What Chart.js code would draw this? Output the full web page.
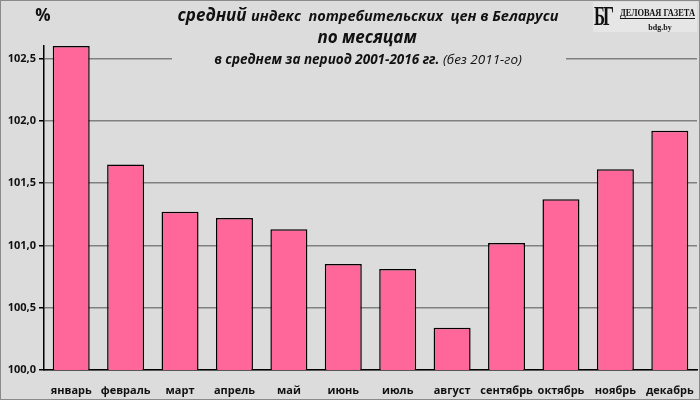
<!DOCTYPE html>
<html>
<head>
<meta charset="utf-8">
<script src="https://cdn.jsdelivr.net/npm/chart.js@4"></script>
<style>
  body { margin: 0; background: #dcdcdc; }
  #wrap { width: 700px; height: 400px; }
</style>
</head>
<body>
<div id="wrap"><canvas id="cpiChart" width="700" height="400"></canvas></div>
<script>
// месяцы и средний индекс потребительских цен, %
const months = ['январь', 'февраль', 'март', 'апрель', 'май', 'июнь',
                'июль', 'август', 'сентябрь', 'октябрь', 'ноябрь', 'декабрь'];
const cpiValues = [102.60, 101.65, 101.27, 101.22, 101.13, 100.85,
                   100.81, 100.34, 101.02, 101.37, 101.61, 101.92];
const yTicks = [100.0, 100.5, 101.0, 101.5, 102.0, 102.5];

const FONT = '"Open Sans", "Noto Sans", sans-serif';

// draw text squeezed to a given width
function fitText(ctx, text, x, y, width) {
    const w = ctx.measureText(text).width;
    ctx.save();
    ctx.translate(x, y);
    ctx.scale(width / w, 1);
    ctx.fillText(text, 0, 0);
    ctx.restore();
}

// Background, frame, titles and the logo
const decorPlugin = {
    id: 'decor',
    beforeDraw(chart) {
        const ctx = chart.ctx;
        ctx.save();
        ctx.fillStyle = '#dcdcdc';
        ctx.fillRect(0, 0, chart.width, chart.height);
        ctx.restore();
    },
    afterDraw(chart) {
        const ctx = chart.ctx;
        ctx.save();
        // title box hides the top gridline
        ctx.fillStyle = '#dcdcdc';
        ctx.fillRect(172, 0, 394, 70);

        ctx.fillStyle = '#111';
        ctx.textBaseline = 'middle';

        // "%" label
        ctx.font = 'bold 17px ' + FONT;
        ctx.textAlign = 'center';
        ctx.fillText('%', 43, 16);

        // line 1, mixed sizes
        const p1 = 'средний ';
        const p2 = 'индекс  потребительских  цен в Беларуси';
        ctx.font = 'italic bold 17px ' + FONT;
        const w1 = ctx.measureText(p1).width;
        ctx.font = 'italic bold 14.5px ' + FONT;
        const w2 = ctx.measureText(p2).width;
        let x = 368 - (w1 + w2) / 2;
        ctx.textAlign = 'left';
        ctx.font = 'italic bold 17px ' + FONT;
        ctx.fillText(p1, x, 16);
        ctx.font = 'italic bold 14.5px ' + FONT;
        ctx.fillText(p2, x + w1, 17);

        // line 2
        ctx.textAlign = 'center';
        ctx.font = 'italic bold 17px ' + FONT;
        ctx.fillText('по месяцам', 367, 38);

        // line 3
        const s1 = 'в среднем за период 2001-2016 гг. ';
        const s2 = '(без 2011-го)';
        ctx.font = 'italic bold 13.5px ' + FONT;
        const sw1 = ctx.measureText(s1).width;
        ctx.font = 'italic 13.5px ' + FONT;
        const sw2 = ctx.measureText(s2).width;
        x = 368 - (sw1 + sw2) / 2;
        ctx.textAlign = 'left';
        ctx.font = 'italic bold 13.5px ' + FONT;
        ctx.fillText(s1, x, 60);
        ctx.font = 'italic 13.5px ' + FONT;
        ctx.fillText(s2, x + sw1, 60);

        // logo
        ctx.fillStyle = '#e6e6e6';
        ctx.fillRect(593, 2, 104, 30);
        ctx.fillStyle = '#111';
        ctx.textAlign = 'left';
        ctx.textBaseline = 'alphabetic';
        ctx.font = 'bold 28px "Liberation Serif", serif';
        fitText(ctx, 'Б', 594, 25, 11);
        fitText(ctx, 'Г', 603, 25, 11);
        ctx.font = 'bold 11px "Liberation Serif", serif';
        fitText(ctx, 'ДЕЛОВАЯ ГАЗЕТА', 620, 16, 75);
        ctx.fillRect(620, 18, 75, 1);
        ctx.font = 'bold 8px "Liberation Serif", serif';
        ctx.textAlign = 'center';
        ctx.fillText('bdg.by', 660, 30);

        // outer frame
        ctx.strokeStyle = '#8a8a8a';
        ctx.lineWidth = 1;
        ctx.strokeRect(0.5, 0.5, chart.width - 1, chart.height - 1);
        ctx.restore();
    }
};

new Chart(document.getElementById('cpiChart').getContext('2d'), {
    type: 'bar',
    data: {
        labels: months,
        datasets: [{
            data: cpiValues,
            backgroundColor: '#ff6699',
            borderColor: '#000',
            borderWidth: 1.5,
            categoryPercentage: 1,
            barPercentage: 0.68
        }]
    },
    options: {
        responsive: false,
        animation: false,
        layout: { padding: { top: 46, right: 3, left: 0, bottom: 0 } },
        plugins: {
            legend: { display: false },
            tooltip: { enabled: false }
        },
        scales: {
            x: {
                grid: { display: false },
                border: { color: '#000', width: 1.5 },
                ticks: {
                    color: '#111',
                    font: { family: FONT, size: 11, weight: 'bold' },
                    maxRotation: 0,
                    autoSkip: false,
                    padding: 6
                },
                afterFit(scale) { scale.height = 30; }
            },
            y: {
                min: 100,
                max: 102.6,
                afterBuildTicks(scale) {
                    scale.ticks = yTicks.map(v => ({ value: v }));
                },
                grid: {
                    color: '#808080',
                    lineWidth: 1.5,
                    tickColor: '#000',
                    tickLength: 5
                },
                border: { color: '#000', width: 1.5 },
                ticks: {
                    color: '#111',
                    font: { family: FONT, size: 11, weight: 'bold' },
                    padding: 3,
                    callback: v => v.toFixed(1).replace('.', ',')
                },
                afterFit(scale) { scale.width = 44; }
            }
        }
    },
    plugins: [decorPlugin]
});
</script>
</body>
</html>
